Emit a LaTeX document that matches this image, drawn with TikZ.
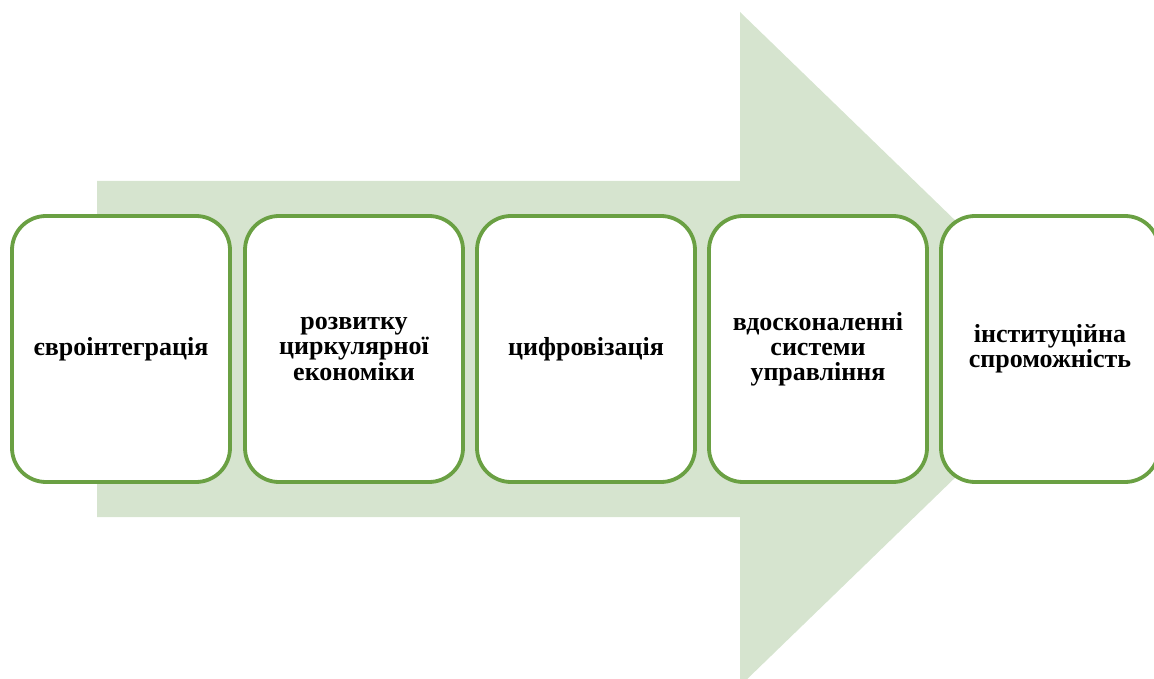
\documentclass[tikz,border=0pt]{standalone}
\usepackage{fontspec}
\setmainfont{Liberation Serif}
\definecolor{arrowfill}{HTML}{D6E4CF}
\definecolor{boxline}{HTML}{6AA043}
\tikzset{
  stage/.style={draw=boxline, line width=3.8pt, fill=white, rounded corners=34pt,
    minimum width=218pt, minimum height=266pt, inner sep=0pt,
    align=center, text width=210pt,
    font=\bfseries\fontsize{26}{25.2}\selectfont},
}
\begin{document}
\begin{tikzpicture}[x=1pt,y=-1pt]
  \useasboundingbox (0,0) rectangle (1154,679);
  % broad background arrow
  \fill[arrowfill] (97,181) -- (740,181) -- (740,12) -- (1088,349)
    -- (740,686) -- (740,517) -- (97,517) -- cycle;
  % stages
  \node[stage] (s1) at (121,349) {євроінтеграція};
  \node[stage] (s2) at (354,349) {розвитку\\циркулярної\\економіки};
  \node[stage] (s3) at (586,349) {цифровізація};
  \node[stage] (s4) at (818,349) {вдосконаленні\\системи\\управління};
  \node[stage] (s5) at (1050,349) {інституційна\\спроможність};
\end{tikzpicture}
\end{document}
